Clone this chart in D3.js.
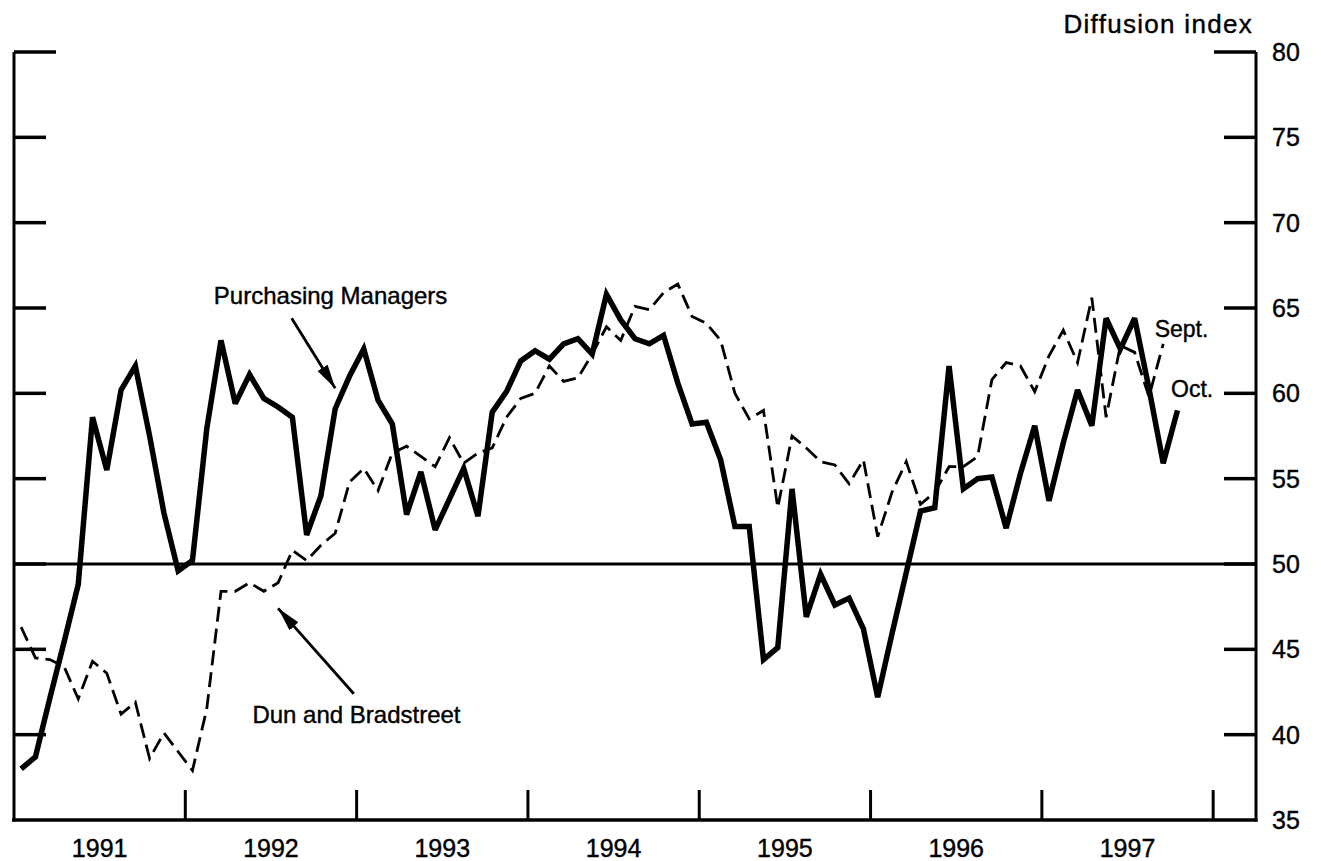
<!DOCTYPE html>
<html>
<head>
<meta charset="utf-8">
<script src="https://cdn.jsdelivr.net/npm/d3@7"></script>
<style>
  body { margin: 0; background: #fff; }
  svg text { font-family: "Liberation Sans", Arial, Helvetica, sans-serif; fill: #000; stroke: #000; stroke-width: 0.4px; }
</style>
</head>
<body>
<div id="chart"></div>
<script>
// Monthly diffusion indexes, Jan 1991 onward
var startYear = 1991;
var yearLabels = ['1991', '1992', '1993', '1994', '1995', '1996', '1997'];
var yTicks = [35, 40, 45, 50, 55, 60, 65, 70, 75, 80];

// Purchasing Managers, Jan 1991 - Oct 1997
var purchasingManagers = [
    38.0, 38.7, 42.1, 45.4, 48.8, 58.6, 55.5, 60.2, 61.6, 57.5, 53.0, 49.6,
    50.2, 57.9, 63.1, 59.4, 61.1, 59.7, 59.2, 58.6, 51.7, 54.0, 59.1, 61.0,
    62.6, 59.6, 58.2, 52.9, 55.4, 52.0, 53.8, 55.6, 52.8, 58.9, 60.1, 61.9,
    62.5, 62.0, 62.9, 63.2, 62.3, 65.8, 64.3, 63.2, 62.9, 63.4, 60.6, 58.2,
    58.3, 56.1, 52.2, 52.2, 44.4, 45.1, 54.4, 46.9, 49.4, 47.6, 48.0, 46.2,
    42.2, 45.9, 49.5, 53.1, 53.3, 61.6, 54.4, 55.0, 55.1, 52.1, 55.3, 58.1,
    53.7, 57.1, 60.2, 58.1, 64.4, 62.6, 64.4, 60.3, 55.9, 59.0
];

// Dun and Bradstreet, Jan 1991 - Sept 1997
var dunBradstreet = [
    46.3, 44.5, 44.4, 44.0, 42.1, 44.3, 43.6, 41.2, 41.9, 38.6, 40.1, 39.0,
    37.9, 41.5, 48.4, 48.4, 48.9, 48.4, 48.9, 50.8, 50.2, 51.1, 51.8, 54.8,
    55.6, 54.3, 56.5, 56.9, 56.3, 55.7, 57.4, 55.9, 56.5, 56.8, 58.6, 59.7,
    60.0, 61.6, 60.7, 60.9, 62.3, 63.9, 63.1, 65.1, 64.9, 65.9, 66.4, 64.5,
    64.1, 63.1, 60.0, 58.5, 59.0, 53.3, 57.5, 56.8, 56.0, 55.8, 54.7, 56.1,
    51.6, 54.2, 56.0, 53.5, 54.2, 55.7, 55.7, 56.3, 60.8, 61.8, 61.6, 60.1,
    62.2, 63.7, 61.8, 65.6, 58.6, 62.8, 62.4, 59.8, 62.9
];

var width = 1321,
    height = 861;

// plot box (left axis, right axis, top tick, bottom axis)
var box = { left: 14, right: 1256, top: 52, bottom: 820 };

var svg = d3.select('#chart').append('svg')
    .attr('width', width)
    .attr('height', height);

// x in months since Jan 1991; points sit mid-month
var xScale = d3.scaleLinear()
    .domain([0, 87])
    .range([box.left, box.right]);

var yScale = d3.scaleLinear()
    .domain([35, 80])
    .range([box.bottom, box.top]);

var monthX = function (i) { return xScale(i + 0.5); };

// frame: left, right, bottom
svg.append('path')
    .attr('d', 'M' + box.left + ',' + box.top + 'V' + (box.bottom + 1.5))
    .attr('stroke', '#000').attr('stroke-width', 3).attr('fill', 'none');
svg.append('path')
    .attr('d', 'M' + box.right + ',' + box.top + 'V' + (box.bottom + 1.5))
    .attr('stroke', '#000').attr('stroke-width', 3).attr('fill', 'none');
svg.append('path')
    .attr('d', 'M' + (box.left - 2) + ',' + box.bottom + 'H' + (box.right + 1.5))
    .attr('stroke', '#000').attr('stroke-width', 3.5).attr('fill', 'none');

// y ticks on both sides
var tickG = svg.append('g').attr('class', 'yticks');
yTicks.filter(function (d) { return d > 35; }).forEach(function (d) {
    var len = d === 80 ? 42 : 32;
    tickG.append('line')
        .attr('x1', box.left).attr('x2', box.left + len)
        .attr('y1', yScale(d)).attr('y2', yScale(d))
        .attr('stroke', '#000').attr('stroke-width', 3.5);
    tickG.append('line')
        .attr('x1', box.right - len).attr('x2', box.right)
        .attr('y1', yScale(d)).attr('y2', yScale(d))
        .attr('stroke', '#000').attr('stroke-width', 3.5);
});

// right axis labels
svg.append('g').selectAll('text')
    .data(yTicks)
    .enter().append('text')
    .attr('x', 1272)
    .attr('y', function (d) { return yScale(d); })
    .attr('dy', '0.36em')
    .style('font-size', '25px')
    .text(function (d) { return d; });

svg.append('text')
    .attr('x', 1253)
    .attr('y', 33)
    .attr('text-anchor', 'end')
    .style('font-size', '26px')
    .style('letter-spacing', '1.3px')
    .text('Diffusion index');

// 50 reference line
svg.append('line')
    .attr('x1', box.left).attr('x2', box.right)
    .attr('y1', yScale(50)).attr('y2', yScale(50))
    .attr('stroke', '#000').attr('stroke-width', 3.2);

// year boundary ticks and labels
svg.append('g').selectAll('line')
    .data(d3.range(1, yearLabels.length + 1))
    .enter().append('line')
    .attr('x1', function (d) { return xScale(d * 12); })
    .attr('x2', function (d) { return xScale(d * 12); })
    .attr('y1', box.bottom)
    .attr('y2', box.bottom - 30)
    .attr('stroke', '#000').attr('stroke-width', 3);

svg.append('g').selectAll('text')
    .data(yearLabels)
    .enter().append('text')
    .attr('x', function (d, i) { return xScale(i * 12 + 6); })
    .attr('y', 857)
    .attr('text-anchor', 'middle')
    .style('font-size', '25px')
    .text(function (d) { return d; });

// series
var line = d3.line()
    .x(function (d, i) { return monthX(i); })
    .y(function (d) { return yScale(d); });

svg.append('path')
    .datum(dunBradstreet)
    .attr('d', line)
    .attr('fill', 'none')
    .attr('stroke', '#000')
    .attr('stroke-width', 2.8)
    .attr('stroke-dasharray', '15,7');

svg.append('path')
    .datum(purchasingManagers)
    .attr('d', line)
    .attr('fill', 'none')
    .attr('stroke', '#000')
    .attr('stroke-width', 5.5)
    .attr('stroke-linejoin', 'miter')
    .attr('stroke-miterlimit', 3);

// annotations (month index, value)
svg.append('defs').append('marker')
    .attr('id', 'arrow')
    .attr('markerUnits', 'userSpaceOnUse')
    .attr('markerWidth', 24).attr('markerHeight', 12)
    .attr('refX', 24).attr('refY', 6)
    .attr('orient', 'auto')
    .append('path')
    .attr('d', 'M0,0L24,6L0,12Z')
    .attr('fill', '#000');

var arrows = [
    { from: [19.45, 64.4], to: [22.5, 60.3] },
    { from: [23.8, 42.4], to: [18.5, 47.4] }
];
svg.append('g').selectAll('line')
    .data(arrows)
    .enter().append('line')
    .attr('x1', function (d) { return xScale(d.from[0]); })
    .attr('y1', function (d) { return yScale(d.from[1]); })
    .attr('x2', function (d) { return xScale(d.to[0]); })
    .attr('y2', function (d) { return yScale(d.to[1]); })
    .attr('stroke', '#000')
    .attr('stroke-width', 2.8)
    .attr('marker-end', 'url(#arrow)');

var notes = [
    { text: 'Purchasing Managers', m: 14.0, v: 65.25, size: 24 },
    { text: 'Dun and Bradstreet', m: 16.7, v: 40.7, size: 24 },
    { text: 'Sept.', m: 79.9, v: 63.3, size: 23 },
    { text: 'Oct.', m: 81.05, v: 59.8, size: 23 }
];
svg.append('g').selectAll('text')
    .data(notes)
    .enter().append('text')
    .attr('x', function (d) { return xScale(d.m); })
    .attr('y', function (d) { return yScale(d.v); })
    .style('font-size', function (d) { return d.size + 'px'; })
    .text(function (d) { return d.text; });
</script>
</body>
</html>
